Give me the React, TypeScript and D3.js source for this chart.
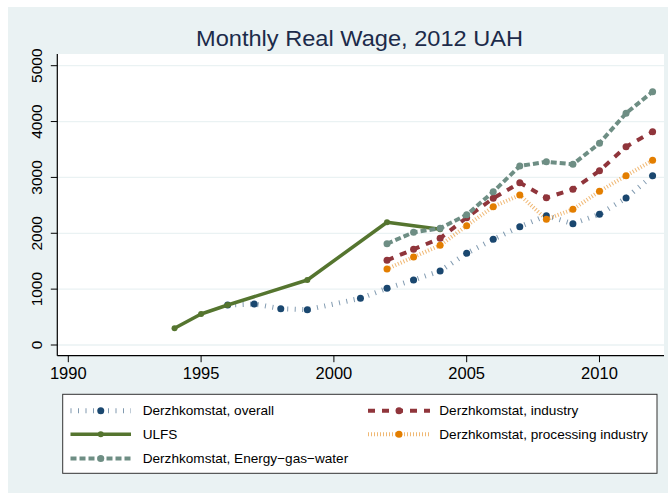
import React from "react";
import * as d3 from "d3";

const overallYears = [1996, 1997, 1998, 1999, 2001, 2002, 2003, 2004, 2005, 2006, 2007, 2008, 2009, 2010, 2011, 2012];
const overallValues = [716, 734, 650, 632, 836, 1015, 1164, 1325, 1642, 1892, 2118, 2315, 2172, 2340, 2632, 3031];

const ulfsYears = [1994, 1995, 1996, 1999, 2002, 2004];
const ulfsValues = [299, 555, 716, 1164, 2197, 2071];

const derzhYears = [2002, 2003, 2004, 2005, 2006, 2007, 2008, 2009, 2010, 2011, 2012];
const industryValues = [1516, 1713, 1910, 2280, 2626, 2905, 2637, 2787, 3120, 3550, 3818];
const processingValues = [1361, 1575, 1785, 2136, 2476, 2685, 2250, 2429, 2752, 3031, 3306];
const energyValues = [1813, 2018, 2089, 2330, 2744, 3204, 3281, 3235, 3611, 4148, 4535];

const xTicks = [1990, 1995, 2000, 2005, 2010];
const yTicks = [0, 1000, 2000, 3000, 4000, 5000];

const titleText = "Monthly Real Wage, 2012 UAH";

type Series = {
  name: string;
  years: number[];
  values: number[];
  color: string;
  width: number;
  dash: string | null;
  opacity: number;
  r: number;
};

const seriesList: Series[] = [
  { name: "Derzhkomstat, overall", years: overallYears, values: overallValues, color: "#1A476F", width: 5, dash: "1,6.5", opacity: 0.55, r: 3.5 },
  { name: "Derzhkomstat, industry", years: derzhYears, values: industryValues, color: "#90353B", width: 4, dash: "7,7", opacity: 1, r: 3.5 },
  { name: "ULFS", years: ulfsYears, values: ulfsValues, color: "#55752F", width: 3.5, dash: null, opacity: 1, r: 3 },
  { name: "Derzhkomstat, processing industry", years: derzhYears, values: processingValues, color: "#E37E00", width: 4, dash: "1,2", opacity: 0.55, r: 3.5 },
  { name: "Derzhkomstat, Energy\u2212gas\u2212water", years: derzhYears, values: energyValues, color: "#6E8E84", width: 4, dash: "6,3", opacity: 1, r: 3.5 },
];

// legend layout: [series index, col, row]
const legendOrder = [
  [0, 0, 0],
  [1, 1, 0],
  [2, 0, 1],
  [3, 1, 1],
  [4, 0, 2],
];

export default function App() {
  const W = 671, H = 493;
  const x = d3.scaleLinear().domain([1990, 2012]).range([68.3, 652.6]);
  const y = d3.scaleLinear().domain([0, 5000]).range([345, 65.7]);
  const plotL = 57.3, plotR = 664, plotT = 54, plotB = 355.7;
  const font = "'Liberation Sans', Arial, Helvetica, sans-serif";

  const line = d3.line<[number, number]>().x(d => x(d[0])).y(d => y(d[1]));

  const legendCols = [{ kx0: 70.5, kx1: 131, tx: 142.7 }, { kx0: 368, kx1: 430, tx: 439.3 }];
  const legendRows = [410.7, 434.2, 458.5];

  return (
    <svg width={W} height={H} style={{ position: "absolute", left: 0, top: 0, fontFamily: font }}>
      <rect x={0} y={0} width={W} height={H} fill="#fff" />
      <rect x={8} y={7} width={660} height={H - 7} fill="#EAF2F3" />
      <rect x={plotL} y={plotT} width={plotR - plotL} height={plotB - plotT} fill="#fff" />
      {yTicks.map(t => (
        <line key={"g" + t} x1={plotL} x2={plotR} y1={y(t)} y2={y(t)} stroke="#EAF2F3" strokeWidth={1.3} />
      ))}
      <text x={359.5} y={46} textAnchor="middle" fontSize={22} fill="#1C2B4A" textLength={327} lengthAdjust="spacingAndGlyphs">{titleText}</text>
      {seriesList.map((s, i) => {
        const pts: [number, number][] = s.years.map((yr, j) => [yr, s.values[j]]);
        return (
          <g key={"s" + i}>
            <path d={line(pts) || ""} fill="none" stroke={s.color} strokeWidth={s.width}
              strokeDasharray={s.dash || undefined} strokeOpacity={s.opacity} strokeLinejoin="round" />
            {pts.map((p, j) => (
              <circle key={j} cx={x(p[0])} cy={y(p[1])} r={s.r} fill={s.color} />
            ))}
          </g>
        );
      })}
      <line x1={plotL} x2={plotL} y1={plotT} y2={plotB} stroke="#000" strokeWidth={1.2} />
      <line x1={plotL} x2={plotR} y1={plotB} y2={plotB} stroke="#000" strokeWidth={1.2} />
      {yTicks.map(t => (
        <g key={"yt" + t}>
          <line x1={plotL - 6.5} x2={plotL} y1={y(t)} y2={y(t)} stroke="#000" strokeWidth={1} />
          <text transform={`translate(36,${y(t)}) rotate(-90)`} textAnchor="middle" dominantBaseline="central" fontSize={15.5} fill="#000">{t}</text>
        </g>
      ))}
      {xTicks.map(t => (
        <g key={"xt" + t}>
          <line x1={x(t)} x2={x(t)} y1={plotB} y2={plotB + 6.5} stroke="#000" strokeWidth={1} />
          <text x={x(t)} y={378.5} textAnchor="middle" fontSize={16.5} fill="#000">{t}</text>
        </g>
      ))}
      <rect x={62.7} y={394.3} width={594.3} height={79} fill="#fff" stroke="#333" strokeWidth={1} />
      {legendOrder.map(([si, c, r]) => {
        const s = seriesList[si];
        const col = legendCols[c];
        const ly = legendRows[r];
        const mid = (col.kx0 + col.kx1) / 2;
        return (
          <g key={"l" + si}>
            <line x1={col.kx0} x2={col.kx1} y1={ly} y2={ly} stroke={s.color} strokeWidth={s.width}
              strokeDasharray={s.dash || undefined} strokeOpacity={s.opacity} />
            <circle cx={mid} cy={ly} r={s.r} fill={s.color} />
            <text x={col.tx} y={ly} dominantBaseline="central" fontSize={13.6} fill="#000">{s.name}</text>
          </g>
        );
      })}
    </svg>
  );
}
